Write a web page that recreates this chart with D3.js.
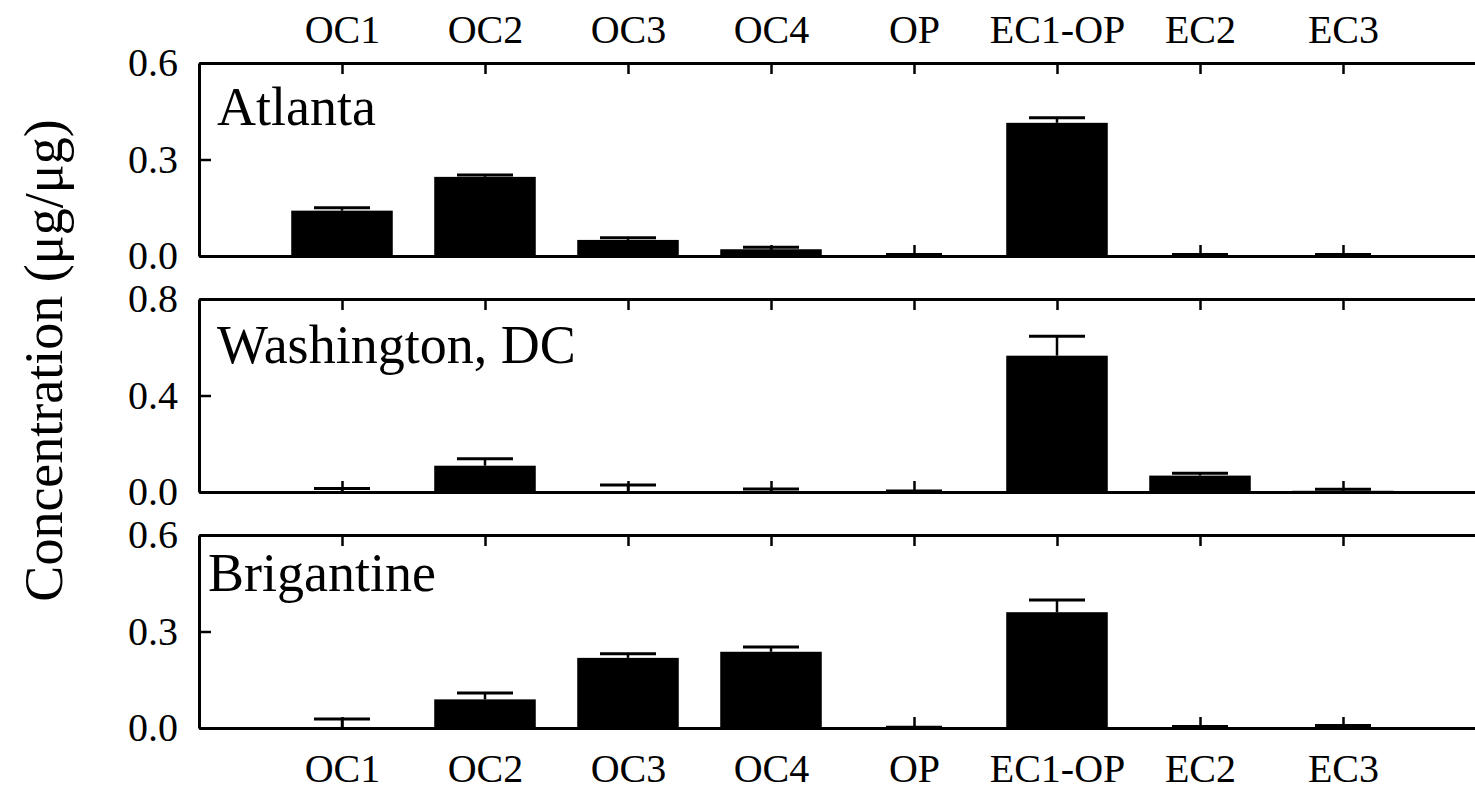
<!DOCTYPE html>
<html>
<head>
<meta charset="utf-8">
<script src="https://cdn.jsdelivr.net/npm/d3@7"></script>
</head>
<body style="margin:0">
<svg id="chart" width="1475" height="792"></svg>
<script>
// ---- data ----
const categories = ["OC1", "OC2", "OC3", "OC4", "OP", "EC1-OP", "EC2", "EC3"];
const sites = ["Atlanta", "Washington, DC", "Brigantine"];
const atlantaValues = [0.141, 0.246, 0.050, 0.021, 0.002, 0.414, 0.002, 0.002];
const atlantaErrors = [0.009, 0.006, 0.007, 0.006, 0.003, 0.016, 0.003, 0.003];
const dcValues = [0.002, 0.109, 0.003, 0.002, 0.001, 0.565, 0.068, 0.005];
const dcErrors = [0.013, 0.029, 0.026, 0.010, 0.003, 0.081, 0.010, 0.006];
const brigantineValues = [0.001, 0.089, 0.218, 0.237, 0.001, 0.360, 0.001, 0.003];
const brigantineErrors = [0.027, 0.020, 0.013, 0.015, 0.001, 0.038, 0.004, 0.005];
const yMaxes = [0.6, 0.8, 0.6];
const yTickValues = [[0, 0.3, 0.6], [0, 0.4, 0.8], [0, 0.3, 0.6]];
const yTitle = "Concentration (μg/μg)";

const seriesValues = [atlantaValues, dcValues, brigantineValues];
const seriesErrors = [atlantaErrors, dcErrors, brigantineErrors];

// ---- layout ----
const left = 199, right = 1486;
const panelTop0 = 63, panelStep = 236, panelH = 193;
const labelOffsets = [[18, 62], [18, 64], [9, 56]];
const serif = () => "'Liberation Serif', monospace";

const svg = d3.select("#chart");

const x = d3.scalePoint().domain(categories).range([left, right]).padding(1);
const barW = x.step() * 0.71;
const capW = 56;

sites.forEach((site, i) => {
  const top = panelTop0 + i * panelStep;
  const bottom = top + panelH;
  const y = d3.scaleLinear().domain([0, yMaxes[i]]).range([bottom, top]);
  const g = svg.append("g");
  const data = categories.map((c, j) => ({ c, v: seriesValues[i][j], e: seriesErrors[i][j] }));

  // bars
  g.selectAll("rect.bar").data(data).join("rect")
    .attr("class", "bar")
    .attr("x", d => x(d.c) - barW / 2)
    .attr("width", barW)
    .attr("y", d => y(d.v))
    .attr("height", d => y(0) - y(d.v))
    .attr("fill", "#000");

  // error bars
  g.selectAll("line.err").data(data).join("line")
    .attr("class", "err")
    .attr("x1", d => x(d.c)).attr("x2", d => x(d.c))
    .attr("y1", d => y(d.v)).attr("y2", d => y(d.v + d.e))
    .attr("stroke", "#000").attr("stroke-width", 2.5);
  g.selectAll("line.cap").data(data).join("line")
    .attr("class", "cap")
    .attr("x1", d => x(d.c) - capW / 2).attr("x2", d => x(d.c) + capW / 2)
    .attr("y1", d => y(d.v + d.e)).attr("y2", d => y(d.v + d.e))
    .attr("stroke", "#000").attr("stroke-width", 3);

  // axes
  const yAxis = d3.axisLeft(y).tickValues(yTickValues[i]).tickFormat(d3.format(".1f"))
    .tickSizeInner(-12).tickSizeOuter(0).tickPadding(21);
  const ga = g.append("g").attr("transform", `translate(${left},0)`).call(yAxis);

  const topAxis = d3.axisTop(x).tickSizeInner(-11).tickSizeOuter(0).tickPadding(20);
  const gt = g.append("g").attr("transform", `translate(0,${top})`).call(topAxis);
  if (i !== 0) gt.selectAll("text").remove();

  const bottomAxis = d3.axisBottom(x).tickSizeInner(-11).tickSizeOuter(0).tickPadding(26);
  const gb = g.append("g").attr("transform", `translate(0,${bottom})`).call(bottomAxis);
  if (i !== sites.length - 1) gb.selectAll("text").remove();

  [ga, gt, gb].forEach(a => {
    a.attr("font-family", null).attr("font-size", null);
    a.selectAll("path.domain").attr("stroke", "#000").attr("stroke-width", 3);
    a.selectAll(".tick line").attr("stroke", "#000").attr("stroke-width", 2.5);
    a.selectAll("text")
      .attr("font-size", 40)
      .attr("fill", "#000")
      .style("font-family", serif);
  });

  // panel label
  g.append("text")
    .attr("x", left + labelOffsets[i][0])
    .attr("y", top + labelOffsets[i][1])
    .attr("font-size", 54)
    .attr("fill", "#000")
    .style("font-family", serif)
    .text(site);
});

// y title
svg.append("text")
  .attr("transform", `translate(44,${panelTop0 + panelStep + panelH / 2 - 35}) rotate(-90)`)
  .attr("text-anchor", "middle")
  .attr("dominant-baseline", "central")
  .attr("font-size", 54)
  .attr("fill", "#000")
  .style("font-family", serif)
  .text(yTitle);
</script>
</body>
</html>
